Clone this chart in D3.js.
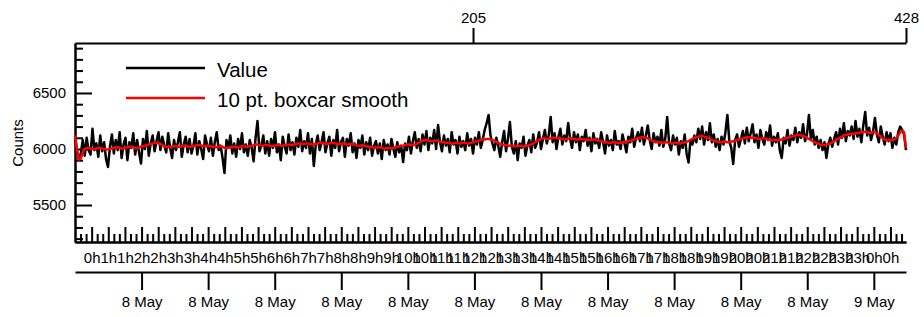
<!DOCTYPE html>
<html>
<head>
<meta charset="utf-8">
<script src="https://cdn.jsdelivr.net/npm/d3@7"></script>
<style>
  body { margin: 0; background: #fff; }
  svg { font-family: "Liberation Sans", Arial, Helvetica, sans-serif; }
</style>
</head>
<body>
<div id="chart"></div>
<script>
// counts, one point every 3.5 min starting 8 May 00:00
var values = [
  6110, 5980, 5905, 5960, 6080, 5940, 6100, 5990, 5950, 6180,
  5990, 6050, 5930, 6120, 5980, 6060, 5910, 5840, 6020, 6130,
  5960, 6080, 5990, 6150, 5920, 6040, 6100, 5900, 6060, 6010,
  6140, 5950, 6080, 5970, 5870, 6090, 6000, 6160, 5940, 6050,
  6120, 5980, 6070, 6150, 5990, 6110, 6030, 5970, 6140, 6010,
  5920, 6080, 5990, 6060, 6150, 5930, 6040, 6110, 5970, 6090,
  5960, 6030, 6140, 5950, 6070, 6000, 5910, 6120, 6040, 5980,
  6100, 5940, 6060, 6150, 5990, 6030, 5920, 5785, 6080, 6010,
  6120, 5960, 6050, 5930, 6090, 6000, 6140, 5970, 6040, 5940,
  6080, 6010, 5890, 6100, 6250, 5980, 6030, 6120, 5960, 6070,
  5940, 6090, 6010, 6150, 5970, 6040, 5900, 6110, 6020, 5960,
  6130, 5990, 6060, 5950, 6100, 6020, 6170, 5980, 6070, 6010,
  6140, 5960, 6090, 5848, 6040, 6120, 5990, 6060, 6150, 5970,
  6050, 6110, 5940, 6080, 6010, 6170, 5980, 6060, 6100, 5930,
  6090, 6030, 6140, 5970, 6050, 5920, 6080, 6010, 6120, 5950,
  6060, 5990, 6100, 5940, 6030, 6070, 5960, 6050, 5910, 6080,
  5990, 6040, 5950, 6090, 6000, 5930, 6060, 5970, 6030, 5884,
  6050, 5990, 6110, 5960, 6070, 6150, 6010, 6090, 5980, 6130,
  6040, 6160, 5990, 6100, 6050, 6170, 6000, 6214, 6060, 5980,
  6120, 6030, 6090, 5970, 6150, 6040, 6080, 5960, 6110, 6020,
  6070, 5990, 6140, 6030, 6090, 5960, 6100, 6040, 6150, 6010,
  6080, 6170, 6230, 6304, 6120, 6050, 5990, 6100, 6030, 5930,
  6060, 6160, 5980, 6090, 6241, 6020, 5960, 6070, 5900, 6050,
  6010, 6110, 5940, 6030, 6080, 5970, 6130, 6010, 6060, 6150,
  6000, 6090, 6170, 6050, 6120, 6286, 6060, 6140, 6000, 6110,
  6180, 6040, 6120, 6070, 6232, 6090, 6010, 6150, 6060, 6130,
  5990, 6110, 6070, 6170, 6030, 6100, 5980, 6140, 6050, 6090,
  6010, 6150, 6060, 5960, 6120, 6030, 6080, 5990, 6160, 6040,
  6070, 6000, 6130, 6050, 5970, 6110, 6060, 6180, 6020, 6100,
  6150, 6070, 6190, 6040, 6120, 6210, 6080, 6000, 6140, 6060,
  6110, 6030, 6170, 6020, 6090, 6286, 6050, 5990, 6120, 6040,
  6100, 5950, 6070, 6010, 6130, 5960, 5880, 6080, 6040, 6120,
  6060, 6180, 6090, 6200, 6040, 6150, 6080, 6230, 6060, 6130,
  6020, 6090, 5990, 6110, 6040, 6150, 6304, 6070, 6010, 5866,
  6080, 6130, 6020, 6090, 6160, 6050, 6190, 6070, 6140, 6220,
  6060, 6130, 6010, 6170, 6090, 6040, 6150, 6080, 6210, 6030,
  6110, 6060, 6140, 5990, 5920, 6100, 6050, 6170, 6030, 6120,
  6080, 6190, 6060, 6150, 6100, 6220, 6070, 6130, 6304, 6090,
  6170, 6040, 6110, 6010, 6080, 5990, 6060, 5920, 6040, 6100,
  6020, 6090, 6150, 6040, 6180, 6100, 6230, 6070, 6160, 6120,
  6200, 6090, 6250, 6110, 6180, 6060, 6210, 6330, 6120, 6190,
  6080, 6150, 6277, 6130, 6060, 6200, 6110, 6040, 6150, 6070,
  6140, 6010, 6100, 6040, 6150, 6200, 6170, 6130, 5990
];

// 10 pt. boxcar smooth
var smooth = [
  6120, 6000, 5905, 5915, 5970, 6000, 6005, 6010, 6005, 6000,
  6000, 6005, 6010, 6010, 6005, 6000, 5995, 5995, 6000, 6005,
  6010, 6015, 6015, 6010, 6005, 6005, 6010, 6015, 6020, 6020,
  6015, 6010, 6010, 6015, 6020, 6025, 6030, 6035, 6040, 6045,
  6050, 6055, 6055, 6050, 6045, 6035, 6025, 6020, 6015, 6015,
  6020, 6025, 6025, 6020, 6020, 6025, 6030, 6030, 6025, 6020,
  6020, 6025, 6030, 6035, 6035, 6030, 6025, 6025, 6030, 6030,
  6025, 6020, 6015, 6015, 6020, 6025, 6020, 6010, 6005, 6010,
  6015, 6020, 6020, 6015, 6015, 6020, 6025, 6025, 6020, 6020,
  6025, 6030, 6035, 6040, 6040, 6035, 6030, 6030, 6035, 6035,
  6030, 6025, 6025, 6030, 6035, 6035, 6030, 6030, 6035, 6040,
  6040, 6035, 6035, 6040, 6045, 6050, 6050, 6045, 6045, 6050,
  6050, 6045, 6040, 6040, 6045, 6050, 6055, 6055, 6050, 6045,
  6045, 6050, 6055, 6055, 6050, 6045, 6045, 6050, 6050, 6045,
  6040, 6040, 6045, 6045, 6040, 6035, 6030, 6030, 6035, 6030,
  6025, 6020, 6020, 6015, 6010, 6010, 6015, 6015, 6010, 6005,
  6005, 6010, 6010, 6005, 6010, 6015, 6020, 6025, 6025, 6030,
  6035, 6040, 6040, 6035, 6035, 6040, 6045, 6055, 6065, 6075,
  6080, 6080, 6075, 6070, 6070, 6075, 6075, 6070, 6065, 6060,
  6060, 6055, 6055, 6055, 6050, 6050, 6055, 6055, 6050, 6050,
  6055, 6055, 6050, 6050, 6055, 6060, 6065, 6070, 6075, 6080,
  6085, 6085, 6090, 6090, 6085, 6080, 6075, 6065, 6055, 6045,
  6040, 6035, 6035, 6030, 6030, 6030, 6025, 6025, 6030, 6030,
  6030, 6025, 6025, 6030, 6035, 6040, 6050, 6060, 6070, 6080,
  6090, 6095, 6095, 6090, 6090, 6095, 6100, 6100, 6095, 6095,
  6095, 6090, 6085, 6085, 6090, 6095, 6095, 6090, 6085, 6085,
  6090, 6090, 6085, 6085, 6080, 6080, 6080, 6085, 6085, 6080,
  6075, 6070, 6065, 6060, 6060, 6055, 6055, 6060, 6060, 6055,
  6055, 6055, 6060, 6060, 6065, 6070, 6075, 6080, 6085, 6090,
  6095, 6100, 6105, 6105, 6100, 6095, 6085, 6075, 6070, 6065,
  6060, 6060, 6055, 6055, 6060, 6060, 6055, 6050, 6050, 6055,
  6055, 6050, 6050, 6055, 6060, 6065, 6070, 6080, 6090, 6100,
  6105, 6110, 6115, 6115, 6110, 6105, 6100, 6090, 6080, 6075,
  6070, 6065, 6060, 6060, 6065, 6065, 6060, 6060, 6065, 6070,
  6075, 6080, 6085, 6090, 6095, 6100, 6105, 6105, 6100, 6100,
  6100, 6095, 6090, 6090, 6095, 6095, 6090, 6085, 6085, 6080,
  6080, 6080, 6080, 6080, 6085, 6090, 6095, 6100, 6105, 6110,
  6115, 6120, 6125, 6125, 6120, 6115, 6110, 6100, 6090, 6080,
  6070, 6060, 6055, 6045, 6040, 6035, 6035, 6040, 6045, 6050,
  6060, 6070, 6080, 6090, 6100, 6110, 6120, 6125, 6130, 6135,
  6135, 6135, 6140, 6140, 6145, 6150, 6150, 6155, 6150, 6145,
  6145, 6150, 6150, 6140, 6125, 6110, 6095, 6085, 6080, 6080,
  6080, 6080, 6085, 6095, 6120, 6150, 6165, 6150, 6005
];

var pointTicks = [205, 428];
var countTicks = [5500, 6000, 6500];
var legendLabels = ["Value", "10 pt. boxcar smooth"];
var startTime = Date.UTC(2024, 4, 8, 0, 0);
var stepMinutes = 3.5;

var width = 924, height = 317,
    plotLeft = 75, plotRight = 906, plotTop = 43, plotBottom = 242,
    n = values.length - 1,
    endTime = startTime + n * stepMinutes * 60000;

var svg = d3.select("#chart")
  .append("svg")
    .attr("width", width)
    .attr("height", height);

var x = d3.scaleLinear().domain([0, n]).range([plotLeft, plotRight]);
var xt = d3.scaleUtc().domain([new Date(startTime), new Date(endTime)]).range([plotLeft, plotRight]);
var y = d3.scaleLinear().domain([5170, 6946]).range([plotBottom, plotTop]);

function styleAxis(g) {
  g.select(".domain").attr("stroke", "#000").attr("stroke-width", 2);
  g.selectAll(".tick line").attr("stroke", "#000").attr("stroke-width", 2);
  g.selectAll("text").attr("fill", "#000").style("font-size", "15px");
}

// left axis: minor every 100, major labelled
var minorCounts = d3.range(5200, 6941, 100).filter(function(d){ return d % 500 != 0; });
svg.append("g")
    .attr("transform", "translate(" + plotLeft + ",0)")
    .call(d3.axisLeft(y).tickValues(minorCounts).tickSize(-8).tickSizeOuter(0).tickFormat(""))
    .call(styleAxis);
svg.append("g")
    .attr("transform", "translate(" + plotLeft + ",0)")
    .call(d3.axisLeft(y).tickValues(countTicks).tickSize(-17).tickSizeOuter(0)
          .tickPadding(9).tickFormat(d3.format("d")))
    .call(styleAxis);

svg.append("text")
    .attr("transform", "translate(23,143) rotate(-90)")
    .attr("text-anchor", "middle")
    .style("font-size", "15px")
    .text("Counts");

// top axis: point number
svg.append("g")
    .attr("transform", "translate(0," + plotTop + ")")
    .call(d3.axisTop(x).tickValues(pointTicks).tickSize(15).tickSizeOuter(0).tickPadding(5))
    .call(styleAxis);

// hour axis, ticks pointing into the plot
var halfHours = d3.utcMinute.every(30).range(new Date(startTime + 30 * 60000), new Date(endTime));
var tenMinutes = d3.utcMinute.every(10).range(new Date(startTime), new Date(endTime))
    .filter(function(d){ return d.getUTCMinutes() % 30 != 0; });
svg.append("g")
    .attr("transform", "translate(0," + plotBottom + ")")
    .call(d3.axisBottom(xt).tickValues(tenMinutes).tickSize(-8).tickSizeOuter(0).tickFormat(""))
    .call(styleAxis);
svg.append("g")
    .attr("transform", "translate(0," + plotBottom + ")")
    .call(d3.axisBottom(xt).tickValues(halfHours).tickSize(-15).tickSizeOuter(0)
          .tickPadding(10).tickFormat(d3.utcFormat("%-Hh")))
    .call(styleAxis);

// date axis
var twoHours = d3.utcHour.every(2).range(new Date(startTime + 2 * 3600000), new Date(endTime));
svg.append("g")
    .attr("transform", "translate(0,272)")
    .call(d3.axisBottom(xt).tickValues(twoHours).tickSize(18).tickSizeOuter(0)
          .tickPadding(6).tickFormat(d3.utcFormat("%-d %b")))
    .call(styleAxis);

// traces
var line = function(arr) {
  return d3.line()
    .x(function(d, i){ return x(i); })
    .y(function(d){ return y(d); })(arr);
};

svg.append("path")
    .attr("d", line(values))
    .attr("fill", "none")
    .attr("stroke", "#000")
    .attr("stroke-width", 2.5)
    .attr("stroke-linejoin", "round");

svg.append("path")
    .attr("d", line(smooth))
    .attr("fill", "none")
    .attr("stroke", "#ff0000")
    .attr("stroke-width", 2.5)
    .attr("stroke-linejoin", "round");

// legend
var legend = svg.append("g");
var colors = ["#000", "#ff0000"];
legendLabels.forEach(function(label, i) {
  legend.append("line")
      .attr("x1", 126).attr("x2", 205)
      .attr("y1", 68 + i * 30).attr("y2", 68 + i * 30)
      .attr("stroke", colors[i])
      .attr("stroke-width", 2.5);
  legend.append("text")
      .attr("x", 217)
      .attr("y", 77 + i * 30)
      .style("font-size", "20.5px")
      .text(label);
});
</script>
</body>
</html>
